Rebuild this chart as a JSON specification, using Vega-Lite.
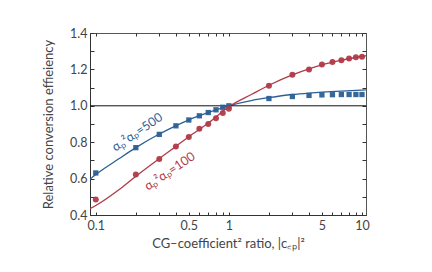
{
  "$schema": "https://vega.github.io/schema/vega-lite/v6.json",
  "width": 276,
  "height": 182,
  "autosize": {"type": "none"},
  "padding": {"left": 90, "top": 33, "right": 66, "bottom": 57},
  "background": "white",
  "config": {
    "view": {"stroke": "#555", "strokeWidth": 1},
    "font": "Lato",
    "axis": {"grid": false, "domainColor": "#333", "tickColor": "#333", "labelColor": "#444", "titleColor": "#444", "labelFont": "Lato", "titleFont": "Lato", "labelFontSize": 12.5, "titleFontSize": 13, "titleFontWeight": "normal"}
  },
  "datasets": {
    "pts": [
      {"s": "blue", "x": 0.1, "y": 0.631}, {"s": "blue", "x": 0.2, "y": 0.77}, {"s": "blue", "x": 0.3, "y": 0.843},
      {"s": "blue", "x": 0.4, "y": 0.89}, {"s": "blue", "x": 0.5, "y": 0.922}, {"s": "blue", "x": 0.6, "y": 0.945},
      {"s": "blue", "x": 0.7, "y": 0.963}, {"s": "blue", "x": 0.8, "y": 0.978}, {"s": "blue", "x": 0.9, "y": 0.992},
      {"s": "blue", "x": 1, "y": 1.0}, {"s": "blue", "x": 2, "y": 1.04}, {"s": "blue", "x": 3, "y": 1.051},
      {"s": "blue", "x": 4, "y": 1.057}, {"s": "blue", "x": 5, "y": 1.06}, {"s": "blue", "x": 6, "y": 1.061},
      {"s": "blue", "x": 7, "y": 1.062}, {"s": "blue", "x": 8, "y": 1.062}, {"s": "blue", "x": 9, "y": 1.062},
      {"s": "blue", "x": 10, "y": 1.062},
      {"s": "red", "x": 0.1, "y": 0.485}, {"s": "red", "x": 0.2, "y": 0.622}, {"s": "red", "x": 0.3, "y": 0.708},
      {"s": "red", "x": 0.4, "y": 0.777}, {"s": "red", "x": 0.5, "y": 0.828}, {"s": "red", "x": 0.6, "y": 0.874},
      {"s": "red", "x": 0.7, "y": 0.9}, {"s": "red", "x": 0.8, "y": 0.932}, {"s": "red", "x": 0.9, "y": 0.96},
      {"s": "red", "x": 1, "y": 0.984}, {"s": "red", "x": 2, "y": 1.11}, {"s": "red", "x": 3, "y": 1.17},
      {"s": "red", "x": 4, "y": 1.2}, {"s": "red", "x": 5, "y": 1.227}, {"s": "red", "x": 6, "y": 1.24},
      {"s": "red", "x": 7, "y": 1.25}, {"s": "red", "x": 8, "y": 1.26}, {"s": "red", "x": 9, "y": 1.267},
      {"s": "red", "x": 10, "y": 1.27}
    ],
    "fit": [
      {"s": "blue", "x": 0.09, "y": 0.595}, {"s": "blue", "x": 0.1, "y": 0.622}, {"s": "blue", "x": 0.15, "y": 0.71},
      {"s": "blue", "x": 0.2, "y": 0.77}, {"s": "blue", "x": 0.3, "y": 0.845}, {"s": "blue", "x": 0.4, "y": 0.89},
      {"s": "blue", "x": 0.5, "y": 0.923}, {"s": "blue", "x": 0.7, "y": 0.963}, {"s": "blue", "x": 1, "y": 1.0},
      {"s": "blue", "x": 1.5, "y": 1.03}, {"s": "blue", "x": 2, "y": 1.045}, {"s": "blue", "x": 3, "y": 1.062},
      {"s": "blue", "x": 4, "y": 1.07}, {"s": "blue", "x": 5, "y": 1.075}, {"s": "blue", "x": 7, "y": 1.081},
      {"s": "blue", "x": 10.7, "y": 1.088},
      {"s": "red", "x": 0.09, "y": 0.434}, {"s": "red", "x": 0.1, "y": 0.452}, {"s": "red", "x": 0.15, "y": 0.54},
      {"s": "red", "x": 0.2, "y": 0.613}, {"s": "red", "x": 0.3, "y": 0.71}, {"s": "red", "x": 0.4, "y": 0.777},
      {"s": "red", "x": 0.5, "y": 0.83}, {"s": "red", "x": 0.7, "y": 0.905}, {"s": "red", "x": 1, "y": 0.995},
      {"s": "red", "x": 1.5, "y": 1.065}, {"s": "red", "x": 2, "y": 1.113}, {"s": "red", "x": 3, "y": 1.17},
      {"s": "red", "x": 4, "y": 1.203}, {"s": "red", "x": 5, "y": 1.225}, {"s": "red", "x": 7, "y": 1.25},
      {"s": "red", "x": 10.7, "y": 1.275}
    ],
    "labels": [
      {"s": "blue", "x": 0.205, "y": 0.855, "t": "αₚ²αₚ=500"},
      {"s": "red", "x": 0.36, "y": 0.64, "t": "αₚ²αₚ=100"}
    ],
    "ref": [{"x": 1, "y": 1.0}]
  },
  "layer": [
    {
      "data": {"name": "fit"},
      "mark": {"type": "line", "interpolate": "monotone", "strokeWidth": 1.3, "clip": true},
      "encoding": {
        "x": {"field": "x", "type": "quantitative", "scale": {"type": "log", "domain": [0.0905, 10.72], "nice": false},
          "axis": {"values": [0.1, 0.2, 0.3, 0.4, 0.5, 0.6, 0.7, 0.8, 0.9, 1, 2, 3, 4, 5, 6, 7, 8, 9, 10],
            "labelExpr": "indexof([0.1,0.5,1,5,10], datum.value) >= 0 ? datum.label : ''",
            "format": "~g", "tickSize": -3, "labelPadding": 7, "labelFlush": false,
            "title": "CG–coefficient² ratio, |c꜀ₚ|²", "titlePadding": 6}},
        "y": {"field": "y", "type": "quantitative", "scale": {"domain": [0.4, 1.4], "nice": false},
          "axis": {"values": [0.4, 0.5, 0.6, 0.7, 0.8, 0.9, 1.0, 1.1, 1.2, 1.3, 1.4], "format": ".1f",
            "labelExpr": "round(datum.value*10) % 2 == 0 ? datum.label : ''",
            "tickSize": -4, "labelPadding": 7,
            "title": "Relative conversion effieiency", "titlePadding": 14}},
        "color": {"field": "s", "type": "nominal", "scale": {"domain": ["blue", "red"], "range": ["#2b5f95", "#b03a48"]}, "legend": null}
      }
    },
    {
      "data": {"name": "ref"},
      "mark": {"type": "rule", "color": "#111", "strokeWidth": 1},
      "encoding": {"y": {"field": "y", "type": "quantitative", "axis": null}}
    },
    {
      "data": {"name": "pts"},
      "mark": {"type": "point", "filled": true, "opacity": 0.95},
      "encoding": {
        "x": {"field": "x", "type": "quantitative", "axis": null},
        "y": {"field": "y", "type": "quantitative", "axis": null},
        "color": {"field": "s", "type": "nominal", "scale": {"domain": ["blue", "red"], "range": ["#2b5f95", "#b03a48"]}, "legend": null},
        "shape": {"field": "s", "type": "nominal", "scale": {"domain": ["blue", "red"], "range": ["square", "circle"]}, "legend": null},
        "size": {"field": "s", "type": "nominal", "scale": {"domain": ["blue", "red"], "range": [28, 36]}, "legend": null}
      }
    },
    {
      "data": {"name": "labels"},
      "mark": {"type": "text", "angle": 326, "font": "Lato", "fontSize": 12.5},
      "encoding": {
        "x": {"field": "x", "type": "quantitative", "axis": null},
        "y": {"field": "y", "type": "quantitative", "axis": null},
        "text": {"field": "t"},
        "color": {"field": "s", "type": "nominal", "scale": {"domain": ["blue", "red"], "range": ["#2b5f95", "#b03a48"]}, "legend": null}
      }
    },
    {
      "data": {"name": "ref"},
      "mark": {"type": "point", "opacity": 0},
      "encoding": {
        "x": {"field": "x", "type": "quantitative", "axis": {"orient": "top", "values": [0.1, 0.2, 0.3, 0.4, 0.5, 0.6, 0.7, 0.8, 0.9, 1, 2, 3, 4, 5, 6, 7, 8, 9, 10], "labels": false, "tickSize": -3, "title": null, "domain": false}},
        "y": {"field": "y", "type": "quantitative", "axis": {"orient": "right", "values": [0.4, 0.5, 0.6, 0.7, 0.8, 0.9, 1.0, 1.1, 1.2, 1.3, 1.4], "labels": false, "tickSize": -4, "title": null, "domain": false}}
      }
    }
  ],
  "resolve": {"axis": {"y": "independent", "x": "independent"}}
}
